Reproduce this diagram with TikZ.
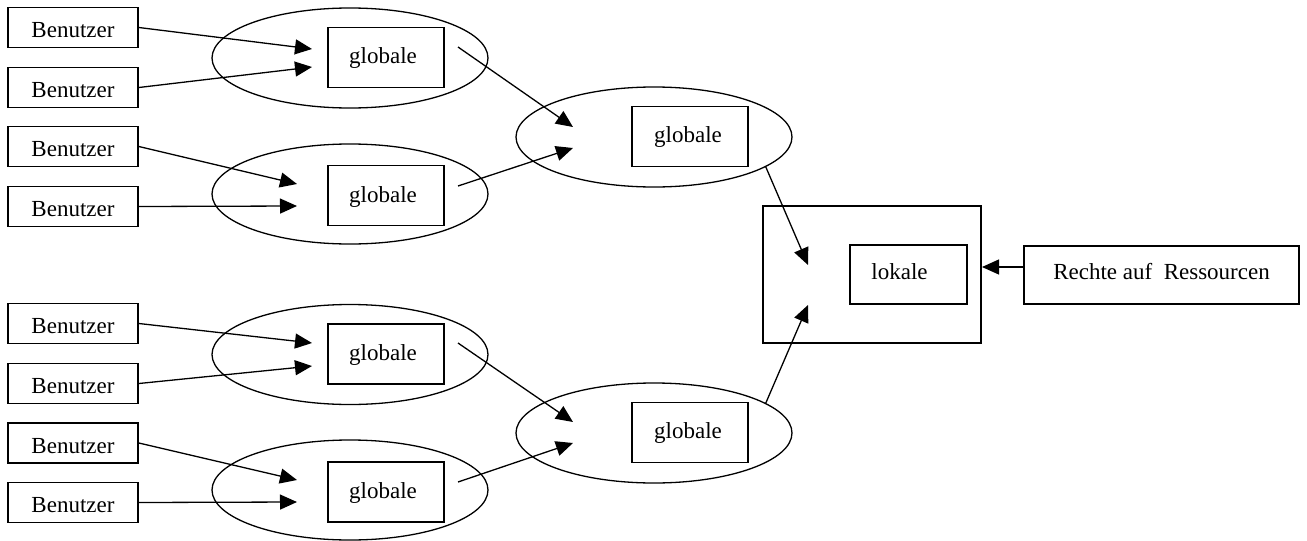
\documentclass[tikz,border=0pt]{standalone}
\usepackage{fontspec}
\setmainfont{Liberation Serif}
\usetikzlibrary{arrows.meta,shapes.geometric}

% shift text vertically while keeping its box size
\newcommand{\shiftv}[2]{\raisebox{#1}[\height][\depth]{#2}}

\tikzset{
  lbl/.style={font=\fontsize{23}{25}\selectfont},
  userbox/.style={draw, lbl, line width=1.7pt, minimum width=130pt, minimum height=40pt, inner sep=0pt},
  rolebox/.style={draw, lbl, line width=1.7pt, minimum width=116pt, minimum height=60pt, inner sep=0pt},
  ring/.style={draw, ellipse, line width=1.3pt, minimum width=276pt, minimum height=100pt, inner sep=0pt},
  link/.style={line width=1.3pt, -{Triangle[length=17pt,width=15pt]}},
}

\begin{document}
\begin{tikzpicture}[x=1pt,y=-1pt]
  \useasboundingbox (0,0) rectangle (1307,541);

  % groups on the left
  \node[ring] (e1) at (350,58) {};
  \node[ring] (e2) at (350,194) {};
  \node[ring] (e3) at (350,354.5) {};
  \node[ring] (e4) at (350,490) {};
  \node[rolebox] (g1) at (386,57.5) {\shiftv{-1pt}{globale}\hspace*{6pt}};
  \node[rolebox] (g2) at (386,195.5) {\shiftv{-1pt}{globale}\hspace*{6pt}};
  \node[rolebox] (g3) at (386,354) {\shiftv{-1pt}{globale}\hspace*{6pt}};
  \node[rolebox] (g4) at (386,492) {\shiftv{-1pt}{globale}\hspace*{6pt}};

  % groups in the middle
  \node[ring] (mU) at (654,137) {};
  \node[ring] (mL) at (654,433) {};
  \node[rolebox] (gU) at (690,136.5) {globale\hspace*{4pt}};
  \node[rolebox] (gL) at (690,432.5) {globale\hspace*{4pt}};

  % local group and resource rights
  \node[draw, line width=1.7pt, minimum width=218pt, minimum height=137pt, inner sep=0pt] (lok) at (872,274.5) {};
  \node[rolebox, minimum width=117pt, minimum height=59pt] (lk) at (908.5,274.5) {\shiftv{3pt}{lokale}\hspace*{18pt}};
  \node[rolebox, minimum width=275pt, minimum height=58pt] (res) at (1161.5,275) {\shiftv{3pt}{Rechte auf\ \ Ressourcen}};

  % users
  \foreach \n/\y in {1/27.5,2/87.5,3/146.5,4/206.5,5/323.5,6/383.5,7/443,8/502.5}
    \node[userbox] (b\n) at (73,\y) {\shiftv{-3pt}{Benutzer}};

  % arrow ends
  \coordinate (t1) at (312,49);
  \coordinate (t2) at (312,67);
  \coordinate (t3) at (297,184);
  \coordinate (t4) at (297,206);
  \coordinate (t5) at (312,343);
  \coordinate (t6) at (312,366);
  \coordinate (t7) at (297,480);
  \coordinate (t8) at (297,502);
  \coordinate (s1) at (458,47);
  \coordinate (s2) at (458,186);
  \coordinate (s3) at (458,343);
  \coordinate (s4) at (458,482);
  \coordinate (u1) at (573,127);
  \coordinate (u2) at (573,148);
  \coordinate (l1) at (573,422);
  \coordinate (l2) at (573,443);
  \coordinate (k1) at (808,265);
  \coordinate (k2) at (808,305);
  \coordinate (rs) at (1024,267);
  \coordinate (rt) at (982,267);

  % users into their groups
  \foreach \n in {1,...,8}
    \draw[link] (b\n.east) -- (t\n);

  % groups into groups
  \draw[link] (s1) -- (u1);
  \draw[link] (s2) -- (u2);
  \draw[link] (s3) -- (l1);
  \draw[link] (s4) -- (l2);

  % global groups into the local group
  \draw[link] (mU.-15) -- (k1);
  \draw[link] (mL.15) -- (k2);

  % rights on resources
  \draw[link] (rs) -- (rt);
\end{tikzpicture}
\end{document}
